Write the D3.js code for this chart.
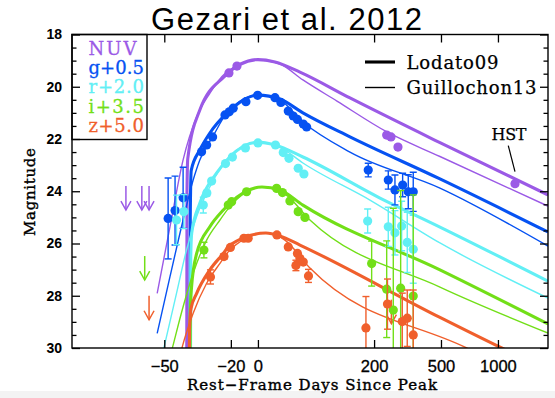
<!DOCTYPE html>
<html>
<head>
<meta charset="utf-8">
<script src="https://cdn.jsdelivr.net/npm/d3@7"></script>
<style>
  html, body { margin: 0; padding: 0; background: #fff; }
  svg { display: block; }
</style>
</head>
<body>
<svg id="chart" width="555" height="398"></svg>
<script>
// ---------------- data ----------------
// Bands, the vertical shift applied when plotting, and axis ticks
const bands = ["NUV", "g", "r", "i", "z"];
const bandOffsets = [0, 0.5, 2.0, 3.5, 5.0];
const tickDays = [-50, -20, 0, 200, 500, 1000];
const tickMags = [18, 20, 22, 24, 26, 28, 30];

// Photometry: [rest-frame days since peak, AB magnitude, 1-sigma error]
const nuvObs = [[-21.2, 19.47, 0.06], [-16.0, 19.21, 0.06], [241.1, 21.85, 0.08], [256.4, 21.92, 0.08],
  [283.0, 22.31, 0.08], [1221, 23.71, 0.08]];
const gObs = [[-48.8, 24.54, 1.55], [-46.5, 24.24, 1.32], [-43.6, 23.75, 1.17], [-35.9, 21.99, 0.08],
  [-33.5, 21.73, 0.06], [-30.5, 21.42, 0.06], [-23.6, 20.58, 0.05], [-21.0, 20.46, 0.05], [-18.5, 20.32, 0.05],
  [-9.6, 20.07, 0.05], [-0.25, 19.83, 0.05], [16.0, 19.92, 0.05], [22.3, 20.10, 0.05], [30.7, 20.43, 0.05],
  [36.8, 20.62, 0.05], [42.2, 20.75, 0.05], [50.1, 20.93, 0.05], [54.9, 21.04, 0.06], [182.8, 22.69, 0.26],
  [246.7, 23.07, 0.35], [271.3, 23.45, 0.57], [302.0, 23.26, 0.45], [326.1, 23.52, 0.65], [348.7, 23.52, 0.75]];
const rObs = [[-46.0, 23.10, 0.95], [-43.3, 22.78, 0.65], [-35.1, 22.53, 0.30], [-33.4, 22.07, 0.10],
  [-31.0, 21.61, 0.08], [-23.3, 20.94, 0.06], [-19.0, 20.69, 0.05], [-10.0, 20.34, 0.05], [0.0, 20.15, 0.05],
  [16.5, 20.23, 0.05], [24.9, 20.52, 0.05], [31.5, 20.74, 0.05], [43.2, 21.12, 0.06], [51.0, 21.34, 0.06],
  [181.1, 23.14, 0.46], [246.7, 23.36, 0.75], [271.3, 23.59, 0.85], [297.9, 23.33, 0.95], [321.6, 23.96, 1.15],
  [348.7, 24.22, 1.30]];
const iObs = [[-34.8, 22.75, 0.30], [-21.6, 21.03, 0.06], [-19.5, 20.90, 0.06], [-9.1, 20.52, 0.05],
  [17.7, 20.39, 0.05], [24.0, 20.55, 0.05], [32.7, 20.87, 0.05], [43.2, 21.28, 0.06], [52.5, 21.50, 0.06],
  [192.7, 23.27, 0.86], [241.1, 24.25, 1.85], [265.0, 25.05, 3.90], [293.8, 24.21, 3.74], [348.7, 24.51, 3.87]];
const zObs = [[-31.6, 22.28, 0.27], [-24.2, 21.50, 0.10], [-20.3, 21.15, 0.08], [-11.1, 20.80, 0.06],
  [-7.9, 20.80, 0.06], [18.0, 20.67, 0.06], [30.7, 21.13, 0.06], [40.2, 21.84, 0.20], [42.2, 21.38, 0.08],
  [45.5, 21.57, 0.08], [50.1, 21.71, 0.08], [57.6, 22.24, 0.25], [176.3, 24.23, 1.20], [243.8, 23.32, 0.96],
  [300.4, 23.99, 1.09], [321.6, 23.86, 1.08], [348.7, 24.50, 1.72]];

// Upper limits: [days, limiting magnitude]
const nuvLimits = [[-59.6, 23.80], [-56.1, 23.80], [-54.3, 23.80]];
const gLimits = [];
const rLimits = [];
const iLimits = [[-55.4, 22.98]];
const zLimits = [[-54.3, 23.00], [258.0, 23.15]];

// Model light curves: [days, magnitude]
const nuvLodato = [[-42.2, 31.0], [-42.1, 24.0], [-41.8, 22.75], [-36.7, 20.89], [-24.2, 19.62], [0, 18.96],
  [16.0, 19.05], [45.5, 19.44], [135.5, 20.43], [493.5, 22.14], [1786, 24.14]];
const nuvGuillochon = [[-52.1, 27.91], [-48.2, 25.36], [-43.6, 22.80], [-38.1, 21.15], [-31.9, 20.25],
  [-23.6, 19.49], [0, 18.98], [21.2, 19.13], [49.6, 19.74], [107.2, 20.55], [242.1, 21.73], [493.5, 22.67], [1786, 24.57]];
const gLodato = [[-40.9, 30.5], [-40.8, 24.5], [-40.4, 22.7], [-36.7, 21.92], [-31.9, 21.27], [-22.6, 20.52],
  [0, 19.82], [21.2, 19.97], [49.6, 20.50], [135.5, 21.42], [493.5, 23.03], [1786, 25.06]];
const gGuillochon = [[-52.1, 28.94], [-48.2, 26.77], [-43.6, 24.60], [-39.6, 23.07], [-36.7, 22.30],
  [-30.5, 21.42], [-22.6, 20.52], [0, 19.82], [21.2, 20.01], [49.6, 20.85], [135.5, 22.00], [493.5, 23.38], [1786, 25.60]];
const rLodato = [[-40.7, 29.0], [-40.6, 24.5], [-40.2, 23.6], [-36.7, 22.46], [-28.4, 21.31], [-20.6, 20.68],
  [0, 20.12], [16.0, 20.23], [49.6, 20.69], [218.5, 22.26], [493.5, 23.37], [1786, 25.44]];
const rGuillochon = [[-51.0, 28.46], [-49.8, 27.82], [-46.0, 25.91], [-42.3, 24.25], [-38.1, 22.97],
  [-31.9, 21.83], [-22.6, 20.80], [0, 20.12], [21.2, 20.31], [49.6, 20.92], [187.7, 22.34], [493.5, 23.98], [1786, 26.09]];
const iLodato = [[-40.9, 27.5], [-40.8, 25.1], [-40.3, 24.2], [-38.1, 22.88], [-31.9, 21.86], [-24.6, 21.22],
  [-20.6, 20.96], [3.5, 20.34], [21.2, 20.45], [49.6, 21.03], [493.5, 23.51], [1786, 25.58]];
const iGuillochon = [[-48.1, 26.81], [-47.3, 26.45], [-43.6, 24.92], [-39.6, 23.64], [-33.5, 22.37],
  [-26.5, 21.60], [-20.6, 21.09], [3.5, 20.34], [26.8, 20.61], [59.8, 21.60], [493.5, 24.17], [1786, 25.93]];
const zLodato = [[-41.2, 26.0], [-41.1, 24.3], [-40.5, 23.5], [-38.1, 22.91], [-31.9, 22.01], [-24.6, 21.38],
  [-20.6, 21.06], [7.1, 20.60], [21.2, 20.71], [45.5, 21.06], [493.5, 23.83], [1044.7, 25.0], [1786, 25.84]];
const zGuillochon = [[-44.8, 25.31], [-43.9, 24.95], [-39.6, 23.67], [-33.5, 22.52], [-26.5, 21.76],
  [-20.6, 21.25], [7.1, 20.60], [26.8, 20.87], [59.8, 21.94], [687.6, 25.0], [910, 25.44]];

const modelNames = ["Lodato09", "Guillochon13"];

// ---------------- styling ----------------
const bandColors = ["#9b5ae6", "#0652f2", "#62eff5", "#72df18", "#f05f2c"];
const modelWidths = [3.1, 1.4];
const serif = "'DejaVu Serif', 'Liberation Serif', serif";
const sans = "'Liberation Sans', Arial, sans-serif";

const obsByBand = [nuvObs, gObs, rObs, iObs, zObs];
const limitsByBand = [nuvLimits, gLimits, rLimits, iLimits, zLimits];
const modelsByBand = [[nuvLodato, nuvGuillochon], [gLodato, gGuillochon], [rLodato, rGuillochon],
  [iLodato, iGuillochon], [zLodato, zGuillochon]];

// ---------------- scales ----------------
const plot = { left: 72, right: 548, top: 34.5, bottom: 348 };
const dayShift = 78;   // axis is logarithmic in (days since peak + 78)
const x = d3.scaleLog().domain([-67.8 + dayShift, 1786 + dayShift]).range([plot.left, plot.right]);
const y = d3.scaleLinear().domain([18, 30]).range([plot.top, plot.bottom]);
const px = t => x(t + dayShift);

const svg = d3.select("#chart");

svg.append("rect").attr("x", 0).attr("y", 391).attr("width", 555).attr("height", 7).attr("fill", "#f3f3f3");

svg.append("defs").append("clipPath").attr("id", "plot-clip")
  .append("rect").attr("x", plot.left).attr("y", plot.top)
  .attr("width", plot.right - plot.left).attr("height", plot.bottom - plot.top);

const inner = svg.append("g").attr("clip-path", "url(#plot-clip)");

// ---------------- model curves ----------------
bands.forEach((b, bi) => {
  const off = bandOffsets[bi];
  const line = d3.line().x(d => px(d[0])).y(d => y(d[1] + off)).curve(d3.curveMonotoneX);
  modelsByBand[bi].forEach((curve, mi) => {
    inner.append("path").attr("d", line(curve)).attr("fill", "none")
      .attr("stroke", bandColors[bi]).attr("stroke-width", modelWidths[mi])
      .attr("stroke-linejoin", "round").attr("stroke-linecap", "butt");
  });
});

// ---------------- upper limits ----------------
const arrowLen = 24;
bands.forEach((b, bi) => {
  const off = bandOffsets[bi];
  limitsByBand[bi].forEach(d => {
    const ax = px(d[0]), ay = y(d[1] + off);
    const g = inner.append("g").attr("stroke", bandColors[bi]).attr("stroke-width", 1.5).attr("fill", "none");
    g.append("line").attr("x1", ax).attr("x2", ax).attr("y1", ay).attr("y2", ay + arrowLen);
    g.append("path").attr("d", `M${ax - 5},${ay + arrowLen - 9}L${ax},${ay + arrowLen}L${ax + 5},${ay + arrowLen - 9}`);
  });
});

// ---------------- error bars and points ----------------
bands.forEach((b, bi) => {
  const off = bandOffsets[bi];
  const col = bandColors[bi];
  const g = inner.append("g");
  obsByBand[bi].forEach(d => {
    const cx = px(d[0]);
    const y1 = y(d[1] + off - d[2]), y2 = y(d[1] + off + d[2]);
    g.append("line").attr("x1", cx).attr("x2", cx).attr("y1", y1).attr("y2", y2)
      .attr("stroke", col).attr("stroke-width", 1.4);
    [y1, y2].forEach(yy => g.append("line").attr("x1", cx - 3.5).attr("x2", cx + 3.5)
      .attr("y1", yy).attr("y2", yy).attr("stroke", col).attr("stroke-width", 1.4));
  });
  g.selectAll("circle").data(obsByBand[bi]).join("circle")
    .attr("cx", d => px(d[0])).attr("cy", d => y(d[1] + off)).attr("r", 4.6).attr("fill", col);
});

// ---------------- axes ----------------
const fmtDay = v => { const t = Math.round(v - dayShift); return t < 0 ? "\u2212" + Math.abs(t) : String(t); };
const xTicks = tickDays.map(t => t + dayShift);
const minorMags = d3.range(18, 30.001, 0.5).filter(m => m % 2 !== 0);

function styleAxis(g) {
  g.select(".domain").remove();
  g.selectAll(".tick line").attr("stroke", "#000").attr("stroke-width", 1.3);
}

svg.append("g").attr("transform", `translate(0,${plot.bottom})`)
  .call(d3.axisBottom(x).tickValues(xTicks).tickFormat(fmtDay).tickSize(-8).tickPadding(12))
  .call(styleAxis)
  .call(g => g.selectAll("text").attr("font-family", sans).attr("font-size", 16.5).attr("fill", "#000")
    .attr("stroke", "#000").attr("stroke-width", 0.3));
svg.append("g").attr("transform", `translate(0,${plot.top})`)
  .call(d3.axisTop(x).tickValues(xTicks).tickFormat("").tickSize(-8))
  .call(styleAxis);

svg.append("g").attr("transform", `translate(${plot.left},0)`)
  .call(d3.axisLeft(y).tickValues(tickMags).tickFormat(d3.format("d")).tickSize(-8).tickPadding(10))
  .call(styleAxis)
  .call(g => g.selectAll("text").attr("font-family", sans).attr("font-weight", "bold")
    .attr("font-size", 14).attr("fill", "#000"));
svg.append("g").attr("transform", `translate(${plot.left},0)`)
  .call(d3.axisLeft(y).tickValues(minorMags).tickFormat("").tickSize(-4.5)).call(styleAxis);
svg.append("g").attr("transform", `translate(${plot.right},0)`)
  .call(d3.axisRight(y).tickValues(tickMags).tickFormat("").tickSize(-8)).call(styleAxis);
svg.append("g").attr("transform", `translate(${plot.right},0)`)
  .call(d3.axisRight(y).tickValues(minorMags).tickFormat("").tickSize(-4.5)).call(styleAxis);

svg.append("rect").attr("x", plot.left).attr("y", plot.top)
  .attr("width", plot.right - plot.left).attr("height", plot.bottom - plot.top)
  .attr("fill", "none").attr("stroke", "#000").attr("stroke-width", 1.4);

// ---------------- titles ----------------
svg.append("text").attr("x", 151).attr("y", 30).attr("font-family", sans).attr("font-size", 31)
  .attr("textLength", 271).attr("lengthAdjust", "spacing").attr("fill", "#000").text("Gezari et al. 2012");

svg.append("text").attr("x", 187).attr("y", 389.5).attr("font-family", serif).attr("font-size", 15)
  .attr("textLength", 250).attr("lengthAdjust", "spacing")
  .attr("fill", "#000").attr("stroke", "#000").attr("stroke-width", 0.4)
  .text("Rest\u2212Frame Days Since Peak");

svg.append("text").attr("transform", "translate(35,236) rotate(-90)")
  .attr("font-family", serif).attr("font-size", 15).attr("textLength", 88).attr("lengthAdjust", "spacing")
  .attr("fill", "#000").attr("stroke", "#000").attr("stroke-width", 0.4).text("Magnitude");

// ---------------- band legend (boxed, upper left) ----------------
svg.append("rect").attr("x", plot.left).attr("y", plot.top).attr("width", 75).attr("height", 105)
  .attr("fill", "none").attr("stroke", "#000").attr("stroke-width", 1.4);
bands.forEach((b, bi) => {
  const label = bandOffsets[bi] > 0 ? `${b}+${bandOffsets[bi].toFixed(1)}` : b;
  svg.append("text").attr("x", 88.5).attr("y", 55 + bi * 19.2)
    .attr("font-family", serif).attr("font-size", 18)
    .attr("textLength", bi === 0 ? 48 : 55.5).attr("lengthAdjust", "spacing")
    .attr("fill", bandColors[bi]).attr("stroke", bandColors[bi]).attr("stroke-width", 0.3).text(label);
});

// ---------------- model legend (upper right) ----------------
modelNames.forEach((name, mi) => {
  const ly = 62 + mi * 25.5;
  svg.append("line").attr("x1", 365).attr("x2", 395).attr("y1", ly).attr("y2", ly)
    .attr("stroke", "#000").attr("stroke-width", modelWidths[mi]);
  svg.append("text").attr("x", 406.5).attr("y", ly + 6.5)
    .attr("font-family", serif).attr("font-size", 18)
    .attr("textLength", mi === 0 ? 92 : 130).attr("lengthAdjust", "spacing")
    .attr("fill", "#000").attr("stroke", "#000").attr("stroke-width", 0.25).text(name);
});

// ---------------- HST annotation ----------------
const hst = nuvObs[nuvObs.length - 1];
const hx = px(hst[0]), hy = y(hst[1]);
svg.append("line").attr("x1", hx - 6.7).attr("y1", hy - 38).attr("x2", hx).attr("y2", hy - 12)
  .attr("stroke", "#000").attr("stroke-width", 1.2);
svg.append("text").attr("x", hx - 23.5).attr("y", hy - 44).attr("font-family", serif).attr("font-size", 16)
  .attr("textLength", 35).attr("lengthAdjust", "spacing").attr("fill", "#000")
  .attr("stroke", "#000").attr("stroke-width", 0.25).text("HST");
</script>
</body>
</html>
